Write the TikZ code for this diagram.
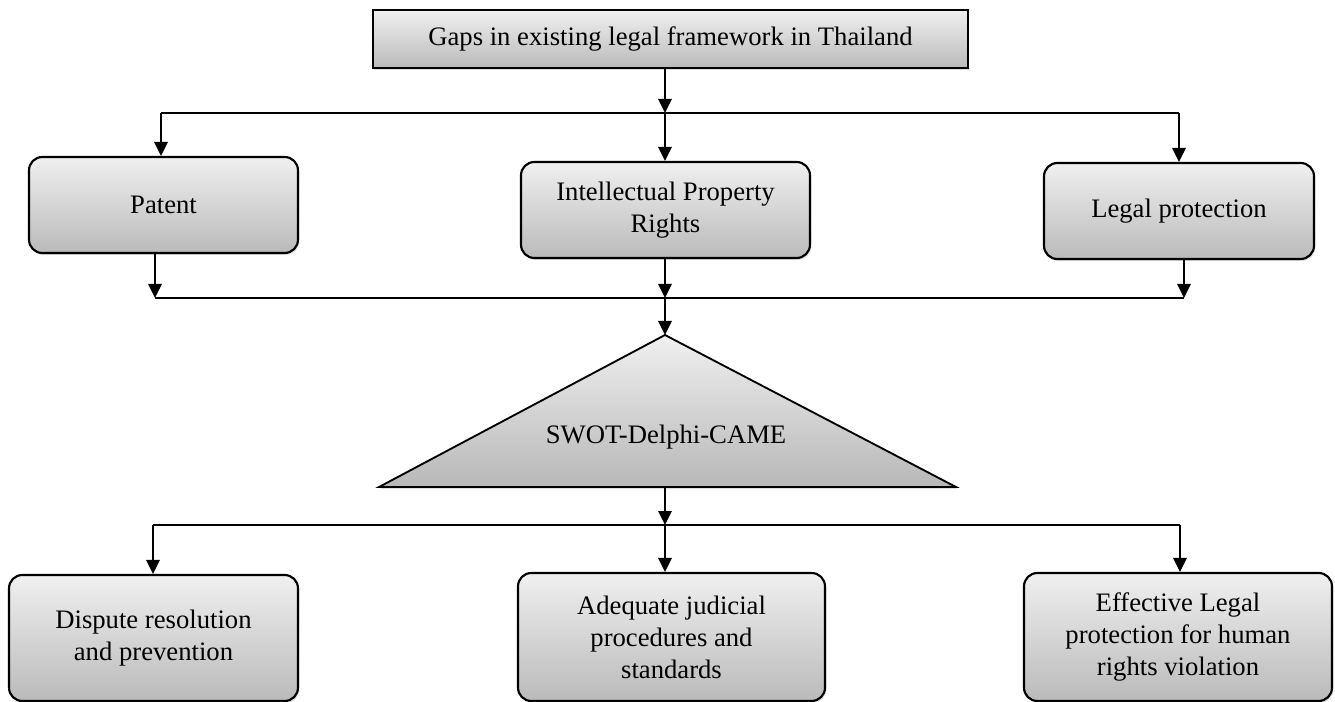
\documentclass[tikz,border=0pt]{standalone}
\usepackage{fontspec}
\setmainfont{Liberation Serif}
\usetikzlibrary{arrows.meta,shadows}
\begin{document}
\begin{tikzpicture}[x=0.75pt,y=-0.75pt,
  every node/.style={font=\fontsize{20}{24}\selectfont, align=center},
  shade/.style={top color=black!6, bottom color=black!27},
  shd/.style={drop shadow={opacity=0.25,shadow xshift=1pt,shadow yshift=-1.5pt}},
  box/.style={draw=black, line width=1.6pt, rounded corners=10pt, shade, shd, inner sep=0pt},
  sqbox/.style={draw=black, line width=1.6pt, shade, shd, inner sep=0pt},
  conn/.style={line width=1.6pt},
  arr/.style={conn, -{Triangle[length=10.5pt,width=10pt]}}]
\useasboundingbox (0,0) rectangle (1335,702);

% nodes
\node[sqbox, minimum width=446.25pt, minimum height=43.5pt] (gaps) at (670.5,39) {Gaps in existing legal framework in Thailand};
\node[box, minimum width=201.75pt, minimum height=72pt] (patent) at (163.5,205) {Patent};
\node[box, minimum width=216.75pt, minimum height=72pt] (ipr) at (665.5,210) {Intellectual Property\\Rights};
\node[box, minimum width=202.5pt, minimum height=72pt] (legal) at (1179,211) {Legal protection};

\path[draw=black, line width=1.4pt, top color=black!6, bottom color=black!28, shd] (665,335) -- (956,487) -- (379,487) -- cycle;
\coordinate (triTop) at (665,335);
\coordinate (triBot) at (665,487);
\node (swot) at (666,437) {SWOT-Delphi-CAME};

\node[box, minimum width=216.75pt, minimum height=94.5pt] (dispute) at (153.5,638) {Dispute resolution\\and prevention};
\node[box, minimum width=230.25pt, minimum height=96pt] (adequate) at (671.5,637) {Adequate judicial\\procedures and\\standards};
\node[box, minimum width=231pt, minimum height=96pt] (effective) at (1178,637) {Effective Legal\\protection for human\\rights violation};

% junctions
\coordinate (j1) at (665,113);
\coordinate (j1l) at (161,113);
\coordinate (j1r) at (1179,113);
\coordinate (j2) at (665,298);
\coordinate (j2l) at (155,298);
\coordinate (j2r) at (1184,298);
\coordinate (j3) at (665,525);
\coordinate (j3l) at (153,525);
\coordinate (j3r) at (1180,525);

% level 1
\draw[arr] (gaps.south -| j1) -- (j1);
\draw[conn] (j1l) -- (j1r);
\draw[arr] (j1l) -- (j1l |- patent.north);
\draw[arr] (j1) -- (j1 |- ipr.north);
\draw[arr] (j1r) -- (j1r |- legal.north);

% level 2
\draw[arr] (j2l |- patent.south) -- (j2l);
\draw[arr] (j2 |- ipr.south) -- (j2);
\draw[arr] (j2r |- legal.south) -- (j2r);
\draw[conn] (j2l) -- (j2r);
\draw[arr] (j2) -- (triTop);

% level 3
\draw[arr] (triBot) -- (j3);
\draw[conn] (j3l) -- (j3r);
\draw[arr] (j3l) -- (j3l |- dispute.north);
\draw[arr] (j3) -- (j3 |- adequate.north);
\draw[arr] (j3r) -- (j3r |- effective.north);
\end{tikzpicture}
\end{document}
